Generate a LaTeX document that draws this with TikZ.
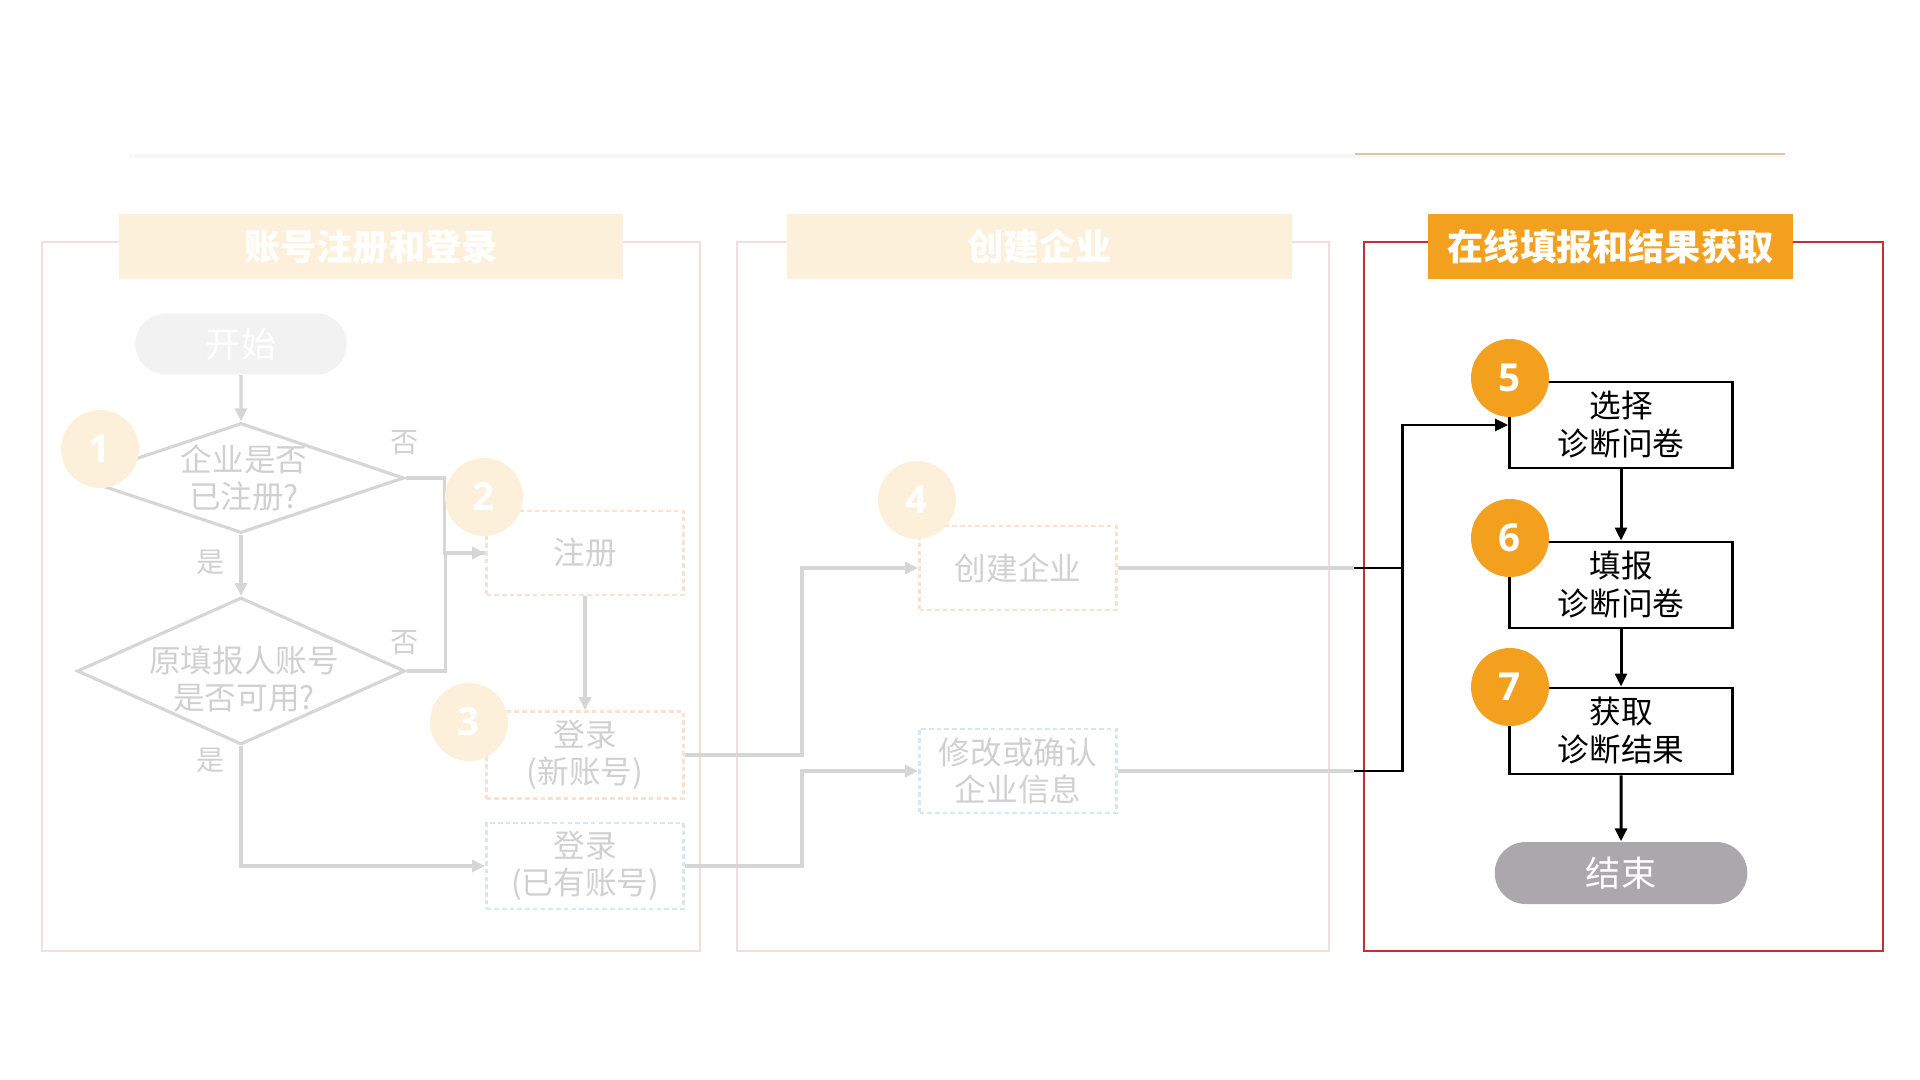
\documentclass[tikz,border=0pt]{standalone}
\usepackage{fontspec}
\setmainfont{Noto Sans CJK SC}
\newfontfamily\numfont{Open Sans}
\usetikzlibrary{shapes,arrows.meta,positioning,calc}

\definecolor{orangeMain}{RGB}{242,160,30}
\definecolor{orangeFade}{RGB}{253,240,219}
\definecolor{frameFade}{RGB}{244,222,221}
\definecolor{frameRed}{RGB}{192,48,52}
\definecolor{lineFade}{RGB}{214,214,214}
\definecolor{textFade}{RGB}{208,208,208}
\definecolor{dashOrange}{RGB}{251,226,204}
\definecolor{dashBlue}{RGB}{218,228,242}
\definecolor{endGrey}{RGB}{170,168,170}
\definecolor{startGrey}{RGB}{242,242,242}
\definecolor{tanLine}{RGB}{225,195,160}

\begin{document}
\begin{tikzpicture}[
    >={Triangle[length=1.3mm,width=1.2mm]},
    panel/.style={draw=frameFade, line width=0.6pt},
    band/.style={rectangle, fill=orangeFade, text=white, minimum height=0.65cm, inner sep=0pt, font=\fontsize{10.3}{12}\selectfont\bfseries},
    box/.style={rectangle, draw=black, line width=0.85pt, minimum width=2.23cm, minimum height=0.86cm, inner ysep=1pt, align=center, font=\fontsize{9}{10.8}\selectfont},
    fadebox/.style={rectangle, draw=dashOrange, line width=0.8pt, dash pattern=on 1.3pt off 0.9pt, minimum width=1.97cm, minimum height=0.84cm, inner sep=1pt, align=center, text=textFade, font=\fontsize{9}{10.5}\selectfont},
    pill/.style={rounded rectangle, text=white, font=\fontsize{10}{12}\selectfont},
    badge/.style={circle, fill=orangeMain, text=white, minimum size=0.78cm, inner sep=0pt, font=\numfont\bfseries\fontsize{11}{12}\selectfont},
    fadebadge/.style={badge, fill=orangeFade},
    decision/.style={diamond, draw=lineFade, line width=0.9pt, inner sep=0pt},
    fadetext/.style={text=textFade, align=center, font=\fontsize{9}{10.5}\selectfont},
    tag/.style={text=textFade, font=\fontsize{8}{9}\selectfont},
    fadeline/.style={draw=lineFade, line width=0.9pt},
    arrow/.style={->, draw=black, line width=0.85pt}
]
\useasboundingbox (0,0) rectangle (19.2,-10.8);

% Header line
\draw[line width=1.2pt, draw=gray!6] (1.29,-1.56) -- (17.85,-1.56);
\draw[line width=0.8pt, draw=tanLine] (13.55,-1.54) -- (17.85,-1.54);

% Panels
\draw[panel] (0.42,-2.42) rectangle (7.00,-9.51);
\draw[panel] (7.37,-2.42) rectangle (13.29,-9.51);
\draw[draw=frameRed, line width=0.75pt] (13.64,-2.42) rectangle (18.83,-9.51);

\node[band, minimum width=5.04cm] (band1) at (3.71,-2.465) {账号注册和登录};
\node[band, minimum width=5.05cm] (band2) at (10.395,-2.465) {创建企业};
\node[band, fill=orangeMain, minimum width=3.65cm] (band3) at (16.105,-2.465) {在线填报和结果获取};

% Account
\node[pill, fill=startGrey, minimum width=2.35cm, minimum height=0.61cm] (start) at (2.41,-3.44) {开始};
\node[decision, minimum width=3.26cm, minimum height=1.10cm] (ask1) at (2.41,-4.78) {};
\node[fadetext] (ask1txt) at (2.44,-4.78) {企业是否\\已注册?};
\draw[fadeline, ->] (start) -- (ask1);
\node[decision, minimum width=3.28cm, minimum height=1.47cm] (ask2) at (2.41,-6.71) {};
\node[fadetext] (ask2txt) at (2.44,-6.79) {原填报人账号\\是否可用?};
\draw[fadeline, ->] (ask1) -- (ask2);

\node[fadebox] (reg) at (5.85,-5.53) {注册};
\node[fadebox, minimum height=0.87cm] (loginNew) at (5.85,-7.55) {登录\\(新账号)};
\node[fadebox, draw=dashBlue, minimum height=0.86cm] (loginOld) at (5.85,-8.66) {登录\\(已有账号)};
\draw[fadeline, ->] (ask1.east) -- ++(0.39,0) |- (reg.west);
\draw[fadeline] (ask2.east) -- ++(0.39,0) |- (reg.west);
\draw[fadeline, ->] (reg) -- (loginNew);
\draw[fadeline, ->] (ask2.south) |- (loginOld.west);

\node[tag] (no1) at (4.05,-4.43) {否};
\node[tag] (yes1) at (2.11,-5.62) {是};
\node[tag] (no2) at (4.05,-6.43) {否};
\node[tag] (yes2) at (2.11,-7.60) {是};

\node[fadebadge] (n1) at (1.00,-4.49) {1};
\node[fadebadge] (n2) at (4.84,-4.97) {2};
\node[fadebadge] (n3) at (4.69,-7.22) {3};

% Company
\node[fadebox] (create) at (10.18,-5.68) {创建企业};
\node[fadebox, draw=dashBlue] (modify) at (10.18,-7.71) {修改或确认\\企业信息};
\node[fadebadge] (n4) at (9.17,-5.00) {4};
\draw[fadeline, ->] (loginNew.east) -- ++(1.17,0) |- (create.west);
\draw[fadeline, ->] (loginOld.east) -- ++(1.17,0) |- (modify.west);

% Online survey
\node[box] (select) at (16.21,-4.25) {选择\\诊断问卷};
\node[box] (report) at (16.21,-5.85) {填报\\诊断问卷};
\draw[arrow] (select) -- (report);
\node[box] (fetch) at (16.21,-7.31) {获取\\诊断结果};
\draw[arrow] (report) -- (fetch);
\node[pill, fill=endGrey, minimum width=2.76cm, minimum height=0.62cm] (finish) at (16.21,-8.73) {结束};
\draw[arrow] (fetch) -- (finish);

\node[badge] (n5) at (15.10,-3.78) {5};
\node[badge] (n6) at (15.10,-5.38) {6};
\node[badge] (n7) at (15.10,-6.87) {7};

\coordinate (busC) at (13.54,-5.68);
\coordinate (busM) at (13.54,-7.71);
\draw[fadeline] (create) -- (busC);
\draw[fadeline] (modify) -- (busM);
\draw[line width=0.85pt] (busC) -- ++(0.48,0);
\draw[arrow] (busM) -- ++(0.48,0) |- (select.west);

\end{tikzpicture}
\end{document}
